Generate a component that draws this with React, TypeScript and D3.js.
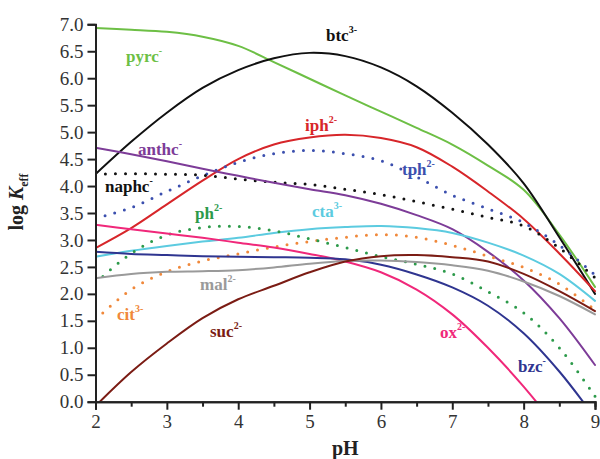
import { FC, useEffect, useRef } from "react"
import * as d3 from "d3"

// pH grid shared by all curves
const PH = [2, 2.5, 3, 3.5, 4, 4.5, 5, 5.5, 6, 6.5, 7, 7.5, 8, 8.5, 9]

const pyrc = [6.93, 6.9, 6.86, 6.77, 6.6, 6.3, 5.99, 5.68, 5.38, 5.08, 4.77, 4.38, 3.93, 3.1, 2.13]
const btc = [4.22, 4.82, 5.36, 5.82, 6.15, 6.37, 6.47, 6.41, 6.2, 5.85, 5.36, 4.77, 4.05, 3.05, 2.0]
const iph = [2.85, 3.22, 3.66, 4.1, 4.5, 4.77, 4.9, 4.95, 4.89, 4.72, 4.36, 3.9, 3.39, 2.75, 2.05]
const tph = [3.4, 3.6, 3.9, 4.19, 4.44, 4.6, 4.66, 4.6, 4.47, 4.17, 3.83, 3.58, 3.32, 2.9, 2.35]
const naphc = [4.22, 4.23, 4.22, 4.2, 4.13, 4.07, 4.03, 3.94, 3.84, 3.71, 3.57, 3.42, 3.26, 2.85, 2.3]
const anthc = [4.71, 4.59, 4.46, 4.32, 4.19, 4.06, 3.94, 3.83, 3.67, 3.46, 3.2, 2.78, 2.25, 1.55, 0.68]
const cta = [2.69, 2.8, 2.89, 2.97, 3.04, 3.13, 3.2, 3.24, 3.26, 3.22, 3.13, 2.95, 2.71, 2.37, 1.87]
const cit = [1.52, 2.08, 2.41, 2.61, 2.74, 2.87, 2.97, 3.05, 3.1, 3.05, 2.9, 2.7, 2.49, 2.18, 1.7]
const ph = [2.2, 2.75, 3.09, 3.23, 3.25, 3.17, 3.02, 2.86, 2.69, 2.55, 2.37, 2.04, 1.65, 1.0, 0.1]
const ox = [3.28, 3.2, 3.12, 3.04, 2.95, 2.86, 2.74, 2.6, 2.4, 2.08, 1.62, 1.0, 0.28, -0.55, -1.5]
const bzc = [2.78, 2.74, 2.72, 2.7, 2.69, 2.68, 2.67, 2.64, 2.54, 2.36, 2.12, 1.78, 1.27, 0.56, -0.3]
const mal = [2.29, 2.37, 2.41, 2.42, 2.44, 2.49, 2.56, 2.61, 2.62, 2.59, 2.53, 2.43, 2.23, 1.96, 1.62]
const suc = [-0.08, 0.55, 1.08, 1.55, 1.9, 2.15, 2.4, 2.6, 2.7, 2.72, 2.68, 2.6, 2.37, 2.05, 1.68]

const Y_TICKS = [0, 0.5, 1, 1.5, 2, 2.5, 3, 3.5, 4, 4.5, 5, 5.5, 6, 6.5, 7]
const X_TICKS = [2, 3, 4, 5, 6, 7, 8, 9]

const FONT = "'Liberation Serif', 'Times New Roman', serif"

const series = [
    { name: "pyrc", sup: "-", values: pyrc, color: "#6dbf45", dotted: false, lx: 126, ly: 62 },
    { name: "btc", sup: "3-", values: btc, color: "#111111", dotted: false, lx: 326, ly: 41 },
    { name: "iph", sup: "2-", values: iph, color: "#d7262a", dotted: false, lx: 305, ly: 131 },
    { name: "tph", sup: "2-", values: tph, color: "#3b4fae", dotted: true, lx: 402, ly: 175 },
    { name: "naphc", sup: "-", values: naphc, color: "#111111", dotted: true, lx: 105, ly: 192 },
    { name: "anthc", sup: "-", values: anthc, color: "#7d3c98", dotted: false, lx: 138, ly: 155 },
    { name: "cta", sup: "3-", values: cta, color: "#5ccbe0", dotted: false, lx: 312, ly: 217 },
    { name: "cit", sup: "3-", values: cit, color: "#f0883a", dotted: true, lx: 117, ly: 320 },
    { name: "ph", sup: "2-", values: ph, color: "#2c9a4a", dotted: true, lx: 195, ly: 219 },
    { name: "ox", sup: "2-", values: ox, color: "#f0287a", dotted: false, lx: 440, ly: 338 },
    { name: "bzc", sup: "-", values: bzc, color: "#2f3590", dotted: false, lx: 518, ly: 372 },
    { name: "mal", sup: "2-", values: mal, color: "#9a9a9a", dotted: false, lx: 200, ly: 290 },
    { name: "suc", sup: "2-", values: suc, color: "#7b1c14", dotted: false, lx: 210, ly: 337 },
]

const Chart: FC = () => {
    const svgRef = useRef<SVGSVGElement>(null)

    useEffect(() => {
        const width = 600
        const height = 459
        const svg = d3.select(svgRef.current)
            .attr("width", width)
            .attr("height", height)
        svg.selectAll("*").remove()

        const x = d3.scaleLinear().domain([2, 9]).range([95.5, 595])
        const y = d3.scaleLinear().domain([0, 7]).range([401.7, 24.3])

        svg.append("defs").append("clipPath").attr("id", "plot")
            .append("rect")
            .attr("x", x(2)).attr("y", y(7) - 10)
            .attr("width", x(9) - x(2) + 4).attr("height", y(0) - y(7) + 10)

        const line = d3.line<number>()
            .x((_, i) => x(PH[i]))
            .y(d => y(d))
            .curve(d3.curveCatmullRom.alpha(0.5))

        const g = svg.append("g").attr("clip-path", "url(#plot)")
        series.forEach(s => {
            g.append("path")
                .attr("d", line(s.values))
                .attr("fill", "none")
                .attr("stroke", s.color)
                .attr("stroke-width", s.dotted ? 3 : 2)
                .attr("stroke-linecap", "round")
                .attr("stroke-dasharray", s.dotted ? "0 10" : null)
        })

        // labels
        series.forEach(s => {
            const t = svg.append("text")
                .attr("x", s.lx).attr("y", s.ly)
                .attr("fill", s.color)
                .attr("font-family", FONT)
                .attr("font-weight", "bold")
                .attr("font-size", 17)
            t.append("tspan").text(s.name)
            t.append("tspan").text(s.sup)
                .attr("dy", -8)
                .attr("font-size", 10)
        })

        // axes
        const xAxis = d3.axisBottom(x).tickValues(X_TICKS).tickSize(8).tickPadding(5)
            .tickFormat(d => `${d}`)
        const xMinor = d3.axisBottom(x).tickValues(X_TICKS.slice(0, -1).map(v => v + 0.5))
            .tickSize(5).tickFormat(() => "")
        const yAxis = d3.axisLeft(y).tickValues(Y_TICKS).tickSize(8).tickPadding(4)
            .tickFormat(d => d3.format(".1f")(d as number))

        const gx = svg.append("g").attr("transform", `translate(0,${y(0)})`).call(xAxis)
        svg.append("g").attr("transform", `translate(0,${y(0)})`).call(xMinor)
        const gy = svg.append("g").attr("transform", `translate(${x(2)},0)`).call(yAxis)

        svg.selectAll(".domain").attr("stroke", "#222").attr("stroke-width", 2)
        svg.selectAll(".tick line").attr("stroke", "#222").attr("stroke-width", 2)
        for (const ax of [gx, gy]) {
            ax.attr("font-family", FONT).attr("font-size", 19)
            ax.selectAll("text").attr("fill", "#333")
        }

        // axis titles
        svg.append("text")
            .attr("x", x(5.5)).attr("y", 455)
            .attr("text-anchor", "middle")
            .attr("font-family", FONT)
            .attr("font-weight", "bold")
            .attr("font-size", 20)
            .attr("fill", "#222")
            .text("pH")

        const yt = svg.append("text")
            .attr("transform", "translate(23,202) rotate(-90)")
            .attr("text-anchor", "middle")
            .attr("font-family", FONT)
            .attr("font-weight", "bold")
            .attr("font-size", 20)
            .attr("fill", "#222")
        yt.append("tspan").text("log ")
        yt.append("tspan").text("K").attr("font-style", "italic")
        yt.append("tspan").text("eff").attr("dy", 5).attr("font-size", 12)
    }, [])

    return <svg ref={svgRef} style={{ position: "absolute", left: 0, top: 0 }}></svg>
}

export default function App() {
    return <Chart />
}
